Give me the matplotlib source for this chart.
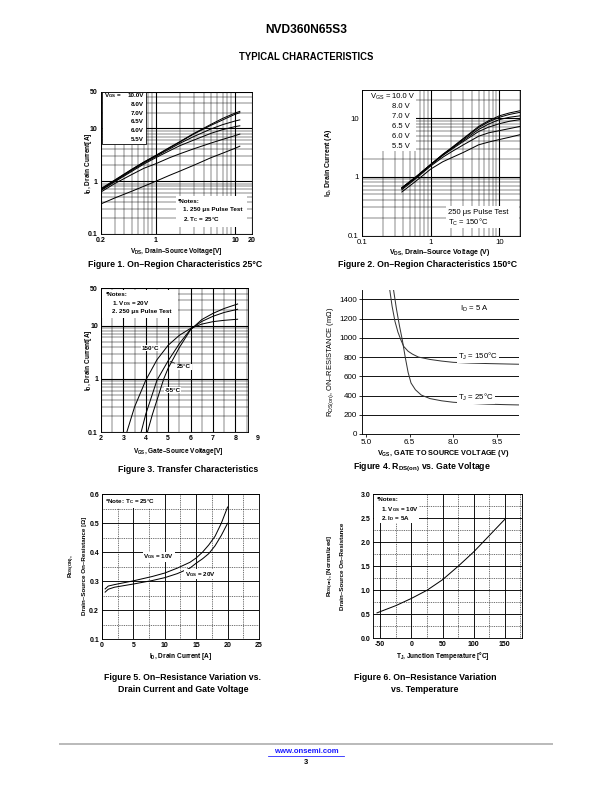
import matplotlib
matplotlib.use("Agg")
import matplotlib.pyplot as plt
import matplotlib.transforms as mtrans
from matplotlib.patches import Rectangle
from matplotlib.lines import Line2D
from matplotlib.ticker import LogLocator, NullFormatter, MultipleLocator

plt.rcParams['font.family'] = ['Liberation Sans', 'DejaVu Sans']
plt.rcParams['mathtext.fontset'] = 'custom'
plt.rcParams['mathtext.rm'] = 'Liberation Sans'
plt.rcParams['mathtext.default'] = 'regular'
plt.rcParams['axes.linewidth'] = 0.9

# ---------------- data ----------------
# Fig 1 - on-region characteristics, Tc = 25C
vgs_steps = ['10.0V', '8.0V', '7.0V', '6.5V', '6.0V', '5.5V']
vds_25 = [0.2, 0.3, 0.5, 0.7, 1, 1.5, 2, 3, 5, 7, 10, 11.5]
id_25 = [
    [0.72, 1.05, 1.70, 2.30, 3.10, 4.40, 5.60, 8.0, 12.0, 15.5, 19.5, 21.0],
    [0.70, 1.03, 1.68, 2.28, 3.05, 4.30, 5.50, 7.8, 11.5, 14.5, 18.5, 19.8],
    [0.68, 1.00, 1.62, 2.20, 2.95, 4.10, 5.20, 7.0, 9.8, 11.8, 13.8, 14.5],
    [0.66, 0.97, 1.55, 2.10, 2.80, 3.80, 4.70, 6.0, 8.1, 9.5, 10.8, 11.2],
    [0.62, 0.90, 1.35, 1.75, 2.15, 2.80, 3.30, 4.1, 5.3, 6.2, 7.3, 7.8],
    [0.37, 0.48, 0.65, 0.80, 1.00, 1.30, 1.55, 2.0, 2.8, 3.4, 4.2, 4.6],
]

# Fig 2 - on-region characteristics, Tc = 150C
vgs_steps_150 = ['10.0 V', '8.0 V', '7.0 V', '6.5 V', '6.0 V', '5.5 V']
vds_150 = [0.38, 0.6, 1, 1.5, 2, 3, 5, 7, 10, 14, 20]
id_150 = [
    [0.65, 0.98, 1.62, 2.40, 3.10, 4.5, 7.2, 9.0, 10.9, 12.2, 13.3],
    [0.65, 0.98, 1.62, 2.40, 3.05, 4.4, 6.9, 8.6, 10.3, 11.5, 12.5],
    [0.64, 0.97, 1.60, 2.35, 3.00, 4.2, 6.4, 7.9, 9.4, 10.3, 10.9],
    [0.63, 0.95, 1.58, 2.30, 2.90, 4.0, 5.9, 7.0, 8.0, 8.8, 9.4],
    [0.60, 0.92, 1.52, 2.15, 2.65, 3.5, 4.9, 5.6, 6.1, 6.6, 7.2],
    [0.55, 0.83, 1.35, 1.80, 2.10, 2.6, 3.5, 3.9, 4.3, 4.7, 5.2],
]

# Fig 3 - transfer characteristics, Vds = 20V
vgs_150c = [3.15, 3.5, 4.0, 4.5, 5.0, 5.5, 6.0, 6.5, 7.0, 7.5, 8.1]
id_150c = [0.1, 0.3, 0.95, 2.3, 4.3, 6.6, 8.9, 10.7, 11.9, 12.6, 13.2]
vgs_25c = [3.79, 4.0, 4.5, 5.0, 5.5, 6.0, 6.5, 7.0, 7.5, 8.1]
id_25c = [0.1, 0.22, 0.95, 2.2, 4.6, 8.6, 12.0, 15.0, 17.7, 20.3]
vgs_m55c = [4.07, 4.3, 4.8, 5.0, 5.5, 6.0, 6.5, 7.0, 7.5, 8.1]
id_m55c = [0.1, 0.22, 1.0, 1.6, 3.9, 8.4, 13.0, 17.0, 21.0, 25.5]

# Fig 4 - Rds(on) vs gate voltage, Id = 5A
vgs4_25 = [5.95, 6.05, 6.15, 6.25, 6.35, 6.45, 6.55, 6.7, 6.9, 7.2, 7.6, 8.0, 8.6, 9.2, 9.8, 10.26]
rds4_25 = [1500, 1300, 1130, 980, 800, 640, 530, 460, 405, 368, 345, 330, 318, 310, 305, 302]
vgs4_150 = [5.82, 5.9, 6.0, 6.1, 6.2, 6.3, 6.45, 6.6, 6.8, 7.2, 7.6, 8.0, 8.6, 9.2, 9.8, 10.26]
rds4_150 = [1500, 1330, 1170, 1060, 980, 910, 860, 830, 800, 775, 758, 745, 737, 732, 728, 725]

# Fig 5 - Rds(on) vs drain current
id5 = [0.5, 1, 2, 5, 8, 10, 12, 14, 15, 16, 17, 18, 19, 20]
rds5_10v = [0.273, 0.283, 0.288, 0.301, 0.316, 0.328, 0.345, 0.365, 0.380, 0.400, 0.425, 0.455, 0.500, 0.556]
rds5_20v = [0.262, 0.272, 0.279, 0.290, 0.302, 0.312, 0.326, 0.345, 0.362, 0.377, 0.395, 0.422, 0.458, 0.500]

# Fig 6 - normalized Rds(on) vs junction temperature
tj6 = [-55, -25, 0, 25, 50, 75, 100, 125, 150]
rn6 = [0.53, 0.68, 0.83, 1.0, 1.22, 1.5, 1.8, 2.14, 2.48]

# ---------------- layout helpers (pixel coords, 612x792 page) ----------------
W, H = 612, 792
fig = plt.figure(figsize=(8.5, 11), dpi=72)

TK = 7      # bold tick labels
NT = 6.3    # note text
AX = 6.5    # axis labels
CAP = 8.8   # captions


def box(l, t, r, b):
    return fig.add_axes([l / W, 1 - b / H, (r - l) / W, (b - t) / H])


def ftext(x, y, s, **kw):
    kw.setdefault('ha', 'center')
    kw.setdefault('va', 'center')
    return fig.text(x / W, 1 - y / H, s, **kw)


def blank(l, t, r, b, ec='none'):
    fig.add_artist(Rectangle((l / W, 1 - b / H), (r - l) / W, (b - t) / H,
                             transform=fig.transFigure, fc='white', ec=ec, lw=0.8, zorder=2))


def loggrid(ax):
    ax.grid(which='major', color='k', lw=1.1)
    ax.grid(which='minor', color='k', lw=0.45)
    ax.tick_params(which='both', length=0, pad=3)


# ---------------- header ----------------
ftext(306, 30, 'NVD360N65S3', fontsize=12, fontweight='bold')
ftext(306, 57, 'TYPICAL CHARACTERISTICS', fontsize=9.5, fontweight='bold')

# ---------------- Figure 1 ----------------
ax1 = box(100.7, 91.5, 252, 234)
for i_curve in id_25:
    ax1.plot(vds_25, i_curve, color='k', lw=1)
ax1.set_xscale('log')
ax1.set_yscale('log')
ax1.set_xlim(0.2, 16.4)
ax1.set_ylim(0.1, 50)
ax1.set_xticks([0.2, 1, 10, 16.4], ['0.2', '1', '10', '20'], fontsize=TK, fontweight='bold')
ax1.set_yticks([0.1, 1, 10, 50], ['0.1', '1', '10', '50'], fontsize=TK, fontweight='bold')
ax1.xaxis.set_minor_locator(LogLocator(subs=range(2, 10), numticks=20))
ax1.yaxis.set_minor_locator(LogLocator(subs=range(2, 10), numticks=20))
ax1.xaxis.set_minor_formatter(NullFormatter())
ax1.yaxis.set_minor_formatter(NullFormatter())
loggrid(ax1)

blank(101.5, 92, 145.5, 144, ec='k')
ftext(103.5, 95.5, 'V$_{GS}$ =', fontsize=NT, fontweight='bold', ha='left')
for k, lab in enumerate(vgs_steps):
    ftext(143.8, 95.5 + 8.8 * k, lab, fontsize=NT, fontweight='bold', ha='right')
blank(176, 196, 247, 227)
ftext(178, 201.5, '*Notes:', fontsize=NT, fontweight='bold', ha='left')
ftext(183, 210, '1. 250 \u03bcs Pulse Test', fontsize=NT, fontweight='bold', ha='left')
ftext(183, 220, '2. T$_C$ = 25\u00b0C', fontsize=NT, fontweight='bold', ha='left')
ftext(88, 163, 'I$_D$, Drain Current[A]', fontsize=AX, fontweight='bold', rotation=90)
ftext(176, 251.5, 'V$_{DS}$, Drain\u2013Source Voltage[V]', fontsize=AX, fontweight='bold')
ftext(175, 264.5, 'Figure 1. On\u2013Region Characteristics 25\u00b0C', fontsize=CAP, fontweight='bold')

# ---------------- Figure 2 ----------------
ax2 = box(362, 90, 520, 235.5)
for i_curve in id_150:
    ax2.plot(vds_150, i_curve, color='k', lw=1)
ax2.set_xscale('log')
ax2.set_yscale('log')
ax2.set_xlim(0.1, 20)
ax2.set_ylim(0.1, 30)
ax2.set_xticks([0.1, 1, 10], ['0.1', '1', '10'], fontsize=7.8)
ax2.set_yticks([0.1, 1, 10], ['0.1', '1', '10'], fontsize=7.8)
ax2.xaxis.set_minor_locator(LogLocator(subs=range(2, 10), numticks=20))
ax2.yaxis.set_minor_locator(LogLocator(subs=range(2, 10), numticks=20))
ax2.xaxis.set_minor_formatter(NullFormatter())
ax2.yaxis.set_minor_formatter(NullFormatter())
loggrid(ax2)

blank(363, 91, 416, 151)
ftext(369.5, 97, 'V$_{GS}$ =', fontsize=7.6, ha='left')
for k, lab in enumerate(vgs_steps_150):
    ftext(392, 97 + 10 * k, lab, fontsize=7.6, ha='left')
blank(446, 206, 519, 228)
ftext(447.5, 212.5, '250 \u03bcs Pulse Test', fontsize=7.6, ha='left')
ftext(447.5, 222.5, 'T$_C$ = 150\u00b0C', fontsize=7.6, ha='left')
ftext(329, 163, 'I$_D$, Drain Current (A)', fontsize=7, fontweight='bold', rotation=90)
ftext(440, 252.5, 'V$_{DS}$, Drain\u2013Source Voltage (V)', fontsize=7, fontweight='bold')
ftext(428, 264.5, 'Figure 2. On\u2013Region Characteristics 150\u00b0C', fontsize=CAP, fontweight='bold')

# ---------------- Figure 3 ----------------
ax3 = box(101, 288.4, 247.7, 432.3)
ax3.plot(vgs_150c, id_150c, color='k', lw=1)
ax3.plot(vgs_25c, id_25c, color='k', lw=1)
ax3.plot(vgs_m55c, id_m55c, color='k', lw=1)
ax3.set_yscale('log')
ax3.set_xlim(2, 8.55)
ax3.set_ylim(0.1, 50)
ax3.set_xticks(range(2, 9), [str(v) for v in range(2, 9)], fontsize=TK, fontweight='bold')
ax3.set_yticks([0.1, 1, 10, 50], ['0.1', '1', '10', '50'], fontsize=TK, fontweight='bold')
ax3.xaxis.set_minor_locator(MultipleLocator(0.5))
ax3.yaxis.set_minor_locator(LogLocator(subs=range(2, 10), numticks=20))
ax3.yaxis.set_minor_formatter(NullFormatter())
loggrid(ax3)
ax3.text(9, -0.042, '9', transform=mtrans.blended_transform_factory(ax3.transData, ax3.transAxes),
         ha='center', va='center', fontsize=TK, fontweight='bold', clip_on=False)
ax3.text(4.2, 3.8, '150\u00b0C', fontsize=NT, fontweight='bold', ha='center', va='center',
         bbox=dict(fc='white', ec='none', pad=0.5), zorder=4)
ax3.annotate('25\u00b0C', xy=(5.0, 2.2), xytext=(5.4, 1.7), fontsize=NT, fontweight='bold',
             ha='left', va='center', arrowprops=dict(arrowstyle='-', lw=0.6, color='k'),
             bbox=dict(fc='white', ec='none', pad=0.5), zorder=4)
ax3.text(4.85, 0.62, '-55\u00b0C', fontsize=NT, fontweight='bold', ha='left', va='center',
         bbox=dict(fc='white', ec='none', pad=0.5), zorder=4)
blank(102, 289.5, 178, 318)
ftext(106, 295, '*Notes:', fontsize=NT, fontweight='bold', ha='left')
ftext(112, 303.5, '1. V$_{DS}$ = 20V', fontsize=NT, fontweight='bold', ha='left')
ftext(112, 312, '2. 250 \u03bcs Pulse Test', fontsize=NT, fontweight='bold', ha='left')
ftext(88, 360, 'I$_D$, Drain Current[A]', fontsize=AX, fontweight='bold', rotation=90)
ftext(178, 451.5, 'V$_{GS}$, Gate\u2013Source Voltage[V]', fontsize=AX, fontweight='bold')
ftext(188, 470, 'Figure 3. Transfer Characteristics', fontsize=CAP, fontweight='bold')

# ---------------- Figure 4 ----------------
ax4 = box(362.3, 289.7, 519.3, 434)
ax4.plot(vgs4_150, rds4_150, color='#333333', lw=1)
ax4.plot(vgs4_25, rds4_25, color='#333333', lw=1)
ax4.set_xlim(4.88, 10.26)
ax4.set_ylim(0, 1500)
ax4.set_xticks([5.0, 6.5, 8.0, 9.5], ['5.0', '6.5', '8.0', '9.5'], fontsize=8)
ax4.set_yticks(range(0, 1401, 200), [str(v) for v in range(0, 1401, 200)], fontsize=8)
ax4.spines['top'].set_visible(False)
ax4.spines['right'].set_visible(False)
ax4.yaxis.grid(True, color='k', lw=0.9)
ax4.tick_params(direction='out', length=3, width=0.8, pad=2)
ftext(459.5, 308.5, 'I$_D$ = 5 A', fontsize=7.8, ha='left')
ftext(458, 356.5, 'T$_J$ = 150\u00b0C', fontsize=7.8, ha='left',
      bbox=dict(fc='white', ec='none', pad=1), zorder=4)
ftext(458, 397, 'T$_J$ = 25\u00b0C', fontsize=7.8, ha='left',
      bbox=dict(fc='white', ec='none', pad=1), zorder=4)
ftext(331, 362, 'R$_{DS(on)}$, ON\u2013RESISTANCE (m\u03a9)', fontsize=7.5, rotation=90)
ftext(443, 453, 'V$_{GS}$, GATE TO SOURCE VOLTAGE (V)', fontsize=7.2, fontweight='bold')
ftext(422, 467, 'Figure 4. R$_{DS(on)}$ vs. Gate Voltage', fontsize=CAP, fontweight='bold')

# ---------------- Figure 5 ----------------
ax5 = box(102, 494.3, 259, 639)
ax5.plot(id5, rds5_10v, color='k', lw=1)
ax5.plot(id5, rds5_20v, color='k', lw=1)
ax5.set_xlim(0, 25)
ax5.set_ylim(0.1, 0.6)
ax5.set_xticks(range(0, 26, 5), [str(v) for v in range(0, 26, 5)], fontsize=TK, fontweight='bold')
ax5.set_yticks([0.1, 0.2, 0.3, 0.4, 0.5, 0.6], ['0.1', '0.2', '0.3', '0.4', '0.5', '0.6'],
               fontsize=TK, fontweight='bold')
ax5.xaxis.set_minor_locator(MultipleLocator(2.5))
ax5.yaxis.set_minor_locator(MultipleLocator(0.05))
ax5.grid(which='major', color='k', lw=0.9)
ax5.grid(which='minor', color='k', lw=0.6, ls=(0, (1.5, 1.5)))
ax5.tick_params(which='both', length=0, pad=3)
ax5.text(6.6, 0.384, 'V$_{GS}$ = 10V', fontsize=NT, fontweight='bold', ha='left', va='center',
         bbox=dict(fc='white', ec='none', pad=0.5), zorder=4)
ax5.text(13.2, 0.324, 'V$_{GS}$ = 20V', fontsize=NT, fontweight='bold', ha='left', va='center',
         bbox=dict(fc='white', ec='none', pad=0.5), zorder=4)
blank(103, 495.3, 162, 508)
ftext(105, 501.5, '*Note: T$_C$ = 25\u00b0C', fontsize=NT, fontweight='bold', ha='left')
ftext(72, 566, 'R$_{DS(ON)}$,', fontsize=NT, fontweight='bold', rotation=90)
ftext(84.5, 566, 'Drain\u2013Source On\u2013Resistance [\u03a9]', fontsize=NT, fontweight='bold', rotation=90)
ftext(181, 656, 'I$_D$, Drain Current [A]', fontsize=AX, fontweight='bold')
ftext(183, 677, 'Figure 5. On\u2013Resistance Variation vs.', fontsize=CAP, fontweight='bold')
ftext(183, 689, 'Drain Current and Gate Voltage', fontsize=CAP, fontweight='bold')

# ---------------- Figure 6 ----------------
ax6 = box(373.3, 494.3, 521.7, 638.3)
ax6.plot(tj6, rn6, color='k', lw=1)
ax6.set_xlim(-61, 177)
ax6.set_ylim(0, 3)
ax6.set_xticks(range(-50, 151, 50), [str(v) for v in range(-50, 151, 50)], fontsize=TK, fontweight='bold')
ax6.set_yticks([0, 0.5, 1, 1.5, 2, 2.5, 3], ['0.0', '0.5', '1.0', '1.5', '2.0', '2.5', '3.0'],
               fontsize=TK, fontweight='bold')
ax6.xaxis.set_minor_locator(MultipleLocator(25))
ax6.yaxis.set_minor_locator(MultipleLocator(0.25))
ax6.grid(which='major', color='k', lw=0.9)
ax6.grid(which='minor', color='k', lw=0.6, ls=(0, (1.5, 1.5)))
ax6.tick_params(which='both', length=0, pad=3)
blank(374.3, 495.3, 419, 523)
ftext(376.5, 500, '*Notes:', fontsize=NT, fontweight='bold', ha='left')
ftext(381, 510, '1. V$_{GS}$ = 10V', fontsize=NT, fontweight='bold', ha='left')
ftext(381, 518.5, '2. I$_D$ = 5A', fontsize=NT, fontweight='bold', ha='left')
ftext(331, 566, 'R$_{DS(on)}$, [Normalized]', fontsize=NT, fontweight='bold', rotation=90)
ftext(342, 566, 'Drain\u2013Source On\u2013Resistance', fontsize=NT, fontweight='bold', rotation=90)
ftext(443, 655.5, 'T$_J$, Junction Temperature [\u00b0C]', fontsize=AX, fontweight='bold')
ftext(425, 677, 'Figure 6. On\u2013Resistance Variation', fontsize=CAP, fontweight='bold')
ftext(425, 689, 'vs. Temperature', fontsize=CAP, fontweight='bold')

# ---------------- footer ----------------
fig.add_artist(Line2D([60 / W, 552 / W], [1 - 744 / H, 1 - 744 / H], color='#bbbbbb', lw=2))
ftext(306, 751.5, 'www.onsemi.com', fontsize=7.8, fontweight='bold', color='#1a1aff')
fig.add_artist(Line2D([268 / W, 344 / W], [1 - 756 / H, 1 - 756 / H], color='#1a1aff', lw=0.8))
ftext(306, 762.5, '3', fontsize=7.5, fontweight='bold')

fig.savefig('out.png', dpi=72)
